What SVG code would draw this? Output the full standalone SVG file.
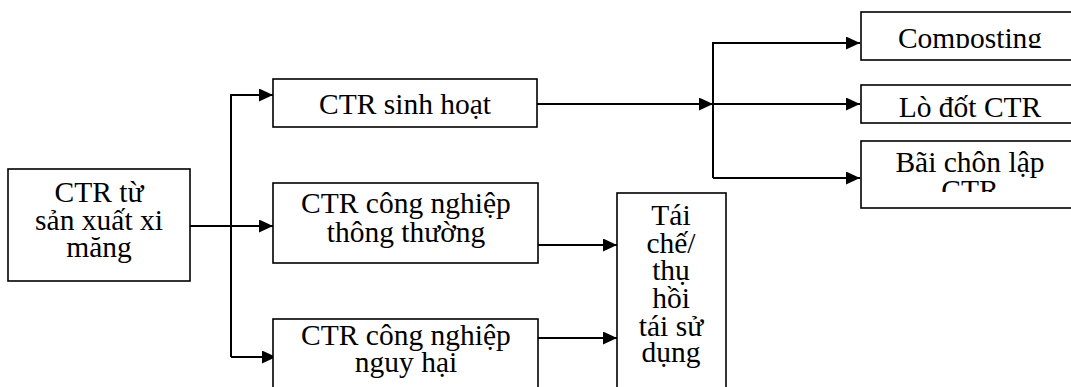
<svg xmlns="http://www.w3.org/2000/svg" width="1071" height="387" viewBox="0 0 1071 387">
  <style>
    .box { fill: #ffffff; stroke: #000000; stroke-width: 1.6; }
    .lbl { font-family: "Liberation Serif", "Times New Roman", serif; font-size: 29.5px; fill: #000000; text-anchor: middle; }
    .wire { fill: none; stroke: #000000; stroke-width: 2; }
  </style>
  <defs>
    <marker id="arrow" markerWidth="14" markerHeight="13" refX="14" refY="6.5" orient="auto" markerUnits="userSpaceOnUse">
      <path d="M0,0 L14,6.5 L0,13 Z" fill="#000000"/>
    </marker>
    <clipPath id="clipCompost"><rect x="861" y="12" width="220" height="36"/></clipPath>
    <clipPath id="clipLandfill"><rect x="861" y="141" width="220" height="51"/></clipPath>
  </defs>

  <rect width="1071" height="387" fill="#ffffff"/>

  <!-- connectors -->
  <g id="connectors">
    <!-- source to the three waste streams -->
    <line class="wire" x1="190" y1="226" x2="273" y2="226" marker-end="url(#arrow)"/>
    <polyline class="wire" points="231,357 231,95 273,95" marker-end="url(#arrow)"/>
    <polyline class="wire" points="231,357 276,357" marker-end="url(#arrow)"/>
    <!-- household waste to treatment options -->
    <line class="wire" x1="537" y1="104" x2="713" y2="104" marker-end="url(#arrow)"/>
    <polyline class="wire" points="713,178 713,43 860,43" marker-end="url(#arrow)"/>
    <line class="wire" x1="713" y1="104" x2="860" y2="104" marker-end="url(#arrow)"/>
    <line class="wire" x1="713" y1="178" x2="860" y2="178" marker-end="url(#arrow)"/>
    <!-- industrial waste to recycling -->
    <line class="wire" x1="538" y1="245" x2="617" y2="245" marker-end="url(#arrow)"/>
    <line class="wire" x1="538" y1="338" x2="617" y2="338" marker-end="url(#arrow)"/>
  </g>

  <g id="source">
    <rect class="box" x="8" y="169" width="182" height="112"/>
    <text class="lbl" x="99" y="202">CTR từ</text>
    <text class="lbl" x="99" y="230">sản xuất xi</text>
    <text class="lbl" x="99" y="257">măng</text>
  </g>

  <g id="household">
    <rect class="box" x="273" y="79" width="264" height="48"/>
    <text class="lbl" x="405" y="114">CTR sinh hoạt</text>
  </g>

  <g id="industrial-normal">
    <rect class="box" x="273" y="183" width="265" height="80"/>
    <text class="lbl" x="406" y="213">CTR công nghiệp</text>
    <text class="lbl" x="406" y="242">thông thường</text>
  </g>

  <g id="industrial-hazardous">
    <rect class="box" x="273" y="319" width="265" height="90"/>
    <text class="lbl" x="406" y="345">CTR công nghiệp</text>
    <text class="lbl" x="406" y="372">nguy hại</text>
  </g>

  <g id="recycling">
    <rect class="box" x="617" y="193" width="109" height="210"/>
    <text class="lbl" x="671" y="225">Tái</text>
    <text class="lbl" x="671" y="253">chế/</text>
    <text class="lbl" x="671" y="280">thụ</text>
    <text class="lbl" x="671" y="308">hồi</text>
    <text class="lbl" x="671" y="336">tái sử</text>
    <text class="lbl" x="671" y="362">dụng</text>
  </g>

  <g id="composting">
    <rect class="box" x="861" y="12" width="220" height="48"/>
    <text class="lbl" x="970" y="48" clip-path="url(#clipCompost)">Composting</text>
  </g>

  <g id="incinerator">
    <rect class="box" x="861" y="85" width="220" height="38"/>
    <text class="lbl" x="970" y="117">Lò đốt CTR</text>
  </g>

  <g id="landfill">
    <rect class="box" x="861" y="141" width="220" height="67"/>
    <g clip-path="url(#clipLandfill)">
      <text class="lbl" x="970" y="172">Bãi chôn lập</text>
      <text class="lbl" x="970" y="200">CTR</text>
    </g>
  </g>
</svg>
